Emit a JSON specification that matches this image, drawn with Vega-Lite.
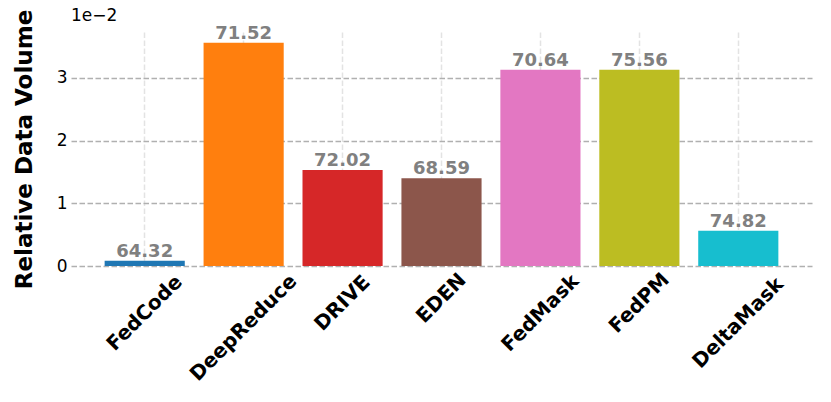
{
  "$schema": "https://vega.github.io/schema/vega-lite/v6.json",
  "width": 741,
  "height": 234,
  "autosize": {"type": "none"},
  "padding": {"left": 71, "top": 32, "right": 19, "bottom": 136},
  "background": "white",
  "title": {"text": "1e−2", "anchor": "start", "frame": "group", "fontSize": 17, "fontWeight": "normal", "font": "DejaVu Sans", "color": "black", "baseline": "alphabetic", "offset": 5, "dy": 34},
  "data": {"values": [
    {"method": "FedCode", "volume": 0.085, "acc": "64.32"},
    {"method": "DeepReduce", "volume": 3.56, "acc": "71.52"},
    {"method": "DRIVE", "volume": 1.53, "acc": "72.02"},
    {"method": "EDEN", "volume": 1.40, "acc": "68.59"},
    {"method": "FedMask", "volume": 3.13, "acc": "70.64"},
    {"method": "FedPM", "volume": 3.13, "acc": "75.56"},
    {"method": "DeltaMask", "volume": 0.56, "acc": "74.82"}
  ]},
  "encoding": {
    "x": {
      "field": "method", "type": "nominal", "sort": null,
      "scale": {"paddingInner": 0.19, "paddingOuter": 0.34},
      "axis": {
        "title": null, "labelAngle": -45, "labelAlign": "center", "labelBaseline": "middle",
        "labelFont": "DejaVu Sans", "labelFontWeight": "bold", "labelFontSize": 20, "labelColor": "black",
        "labelOverlap": false, "ticks": false, "domain": false,
        "labelPadding": {"expr": "12 + 4.95*length(datum.label)"},
        "grid": true, "gridColor": "#e3e3e3", "gridDash": [5.5, 2.5], "gridWidth": 1.5
      }
    },
    "y": {
      "field": "volume", "type": "quantitative",
      "scale": {"domain": [0, 3.73], "nice": false, "zero": true},
      "axis": {
        "values": [0, 1, 2, 3], "title": "Relative Data Volume",
        "titleFont": "DejaVu Sans", "titleFontWeight": "bold", "titleFontSize": 23, "titleColor": "black",
        "titleX": -40, "titleY": 117, "titleAngle": -90, "titleAlign": "center", "titleBaseline": "alphabetic",
        "labelFont": "DejaVu Sans", "labelFontSize": 17, "labelColor": "black", "labelPadding": 4, "labelFlush": false,
        "ticks": false, "domain": false,
        "grid": true, "gridColor": "#b0b0b0", "gridDash": [5.5, 2.5], "gridWidth": 1.5
      }
    }
  },
  "layer": [
    {
      "mark": {"type": "bar"},
      "encoding": {
        "color": {
          "field": "method", "type": "nominal", "sort": null, "legend": null,
          "scale": {
            "domain": ["FedCode", "DeepReduce", "DRIVE", "EDEN", "FedMask", "FedPM", "DeltaMask"],
            "range": ["#1f77b4", "#ff7f0e", "#d62728", "#8c564b", "#e377c2", "#bcbd22", "#17becf"]
          }
        }
      }
    },
    {
      "mark": {"type": "text", "baseline": "alphabetic", "dy": -4, "font": "DejaVu Sans", "fontWeight": "bold", "fontSize": 18, "color": "#808080"},
      "encoding": {"text": {"field": "acc"}}
    }
  ],
  "config": {"view": {"stroke": null}}
}
